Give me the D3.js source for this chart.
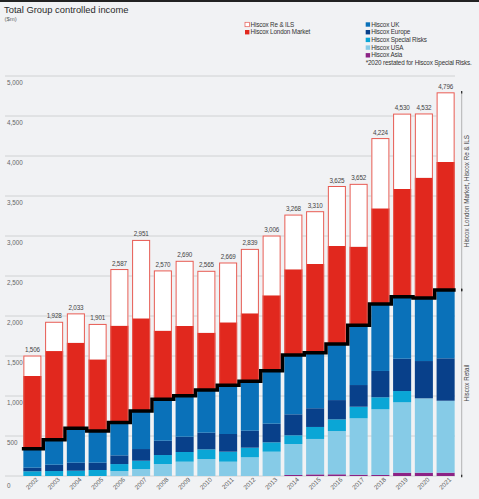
<!DOCTYPE html>
<html>
<head>
<meta charset="utf-8">
<script src="https://cdn.jsdelivr.net/npm/d3@7"></script>
<style>
  body { margin: 0; background: #f1f2f4; }
  svg { display: block; font-family: "Liberation Sans", Arial, sans-serif; }
</style>
</head>
<body>
<div id="chart"></div>
<script>
// data ($m)
var years = ["2002","2003","2004","2005","2006","2007","2008","2009","2010","2011",
             "2012","2013","2014","2015","2016","2017","2018","2019","2020","2021"];
var totals = [1506,1928,2033,1901,2587,2951,2570,2690,2565,2669,
              2839,3006,3268,3310,3625,3652,4224,4530,4532,4796];
var asia    = [0,0,0,0,0,0,0,0,0,0, 0,0,13,20,21,16,13,41,41,41];
var usa     = [0,0,0,0,62,87,150,179,212,179, 234,304,387,443,541,705,821,880,930,900];
var special = [59,62,66,75,87,104,112,121,121,125, 120,117,109,150,146,145,150,141,0,0];
var europe  = [45,79,100,91,109,146,179,191,208,221, 212,233,262,234,241,271,329,404,466,530];
var uk      = [237,312,430,396,412,475,518,512,534,609, 617,662,741,695,700,746,838,775,787,854];
var london  = [909,1109,1070,896,1209,1159,858,872,716,787, 851,943,1072,1108,1226,984,1195,1347,1505,1600];
var reIls   = [256,366,367,443,708,980,753,815,774,748, 805,747,684,660,750,785,878,942,803,871];
var yTicks  = [0,500,1000,1500,2000,2500,3000,3500,4000,4500,5000];

var keys = ["asia","usa","special","europe","uk","london","reIls"];
var colors = {asia:"#8c2385", usa:"#86cbe7", special:"#0aa6d6", europe:"#08408a",
              uk:"#0a71b9", london:"#e1281e", reIls:"#ffffff"};

var rows = years.map(function(y, i) {
  return {year:y, asia:asia[i], usa:usa[i], special:special[i], europe:europe[i],
          uk:uk[i], london:london[i], reIls:reIls[i], total:totals[i]};
});

var W = 479, H = 499;
var svg = d3.select("#chart").append("svg").attr("width", W).attr("height", H);

// top rule
svg.append("rect").attr("x",0).attr("y",0).attr("width",W).attr("height",2).attr("fill","#222");

svg.append("text").attr("x",4).attr("y",13).attr("font-size",9.4).attr("fill","#2a2a2a")
  .text("Total Group controlled income");
svg.append("text").attr("x",4.5).attr("y",21.3).attr("font-size",6).attr("fill","#666").text("($m)");

// scales
var x = d3.scaleBand().domain(years).range([21.5, 456.5]).paddingInner(0.17).paddingOuter(0.085);
var y = d3.scaleLinear().domain([0, 5000]).range([476, 76]);

// gridlines + tick labels
var grid = svg.append("g");
grid.selectAll("line").data(yTicks).enter().append("line")
  .attr("x1",5).attr("x2",455)
  .attr("y1",function(d){return y(d);}).attr("y2",function(d){return y(d);})
  .attr("stroke","#c9cacc").attr("stroke-width",0.8);
grid.selectAll("text").data(yTicks).enter().append("text")
  .attr("x",7).attr("y",function(d){return y(d) + (d === 0 ? 12 : 9);})
  .attr("font-size",6.3).attr("fill","#666")
  .text(function(d){return d3.format(",")(d);});

// stacked bars
var series = d3.stack().keys(keys)(rows);
var layers = svg.append("g").selectAll("g").data(series).enter().append("g");
layers.selectAll("rect").data(function(d){ return d.map(function(v){ v.key = d.key; return v; }); })
  .enter().append("rect")
    .attr("x", function(d){ return x(d.data.year); })
    .attr("y", function(d){ return y(d[1]); })
    .attr("width", x.bandwidth())
    .attr("height", function(d){ return y(d[0]) - y(d[1]); })
    .attr("fill", function(d){ return colors[d.key]; });

// red outline round the upper part of each bar
svg.append("g").selectAll("rect").data(rows).enter().append("rect")
  .attr("x", function(d){ return x(d.year) + 0.5; })
  .attr("y", function(d){ return y(d.total) + 0.5; })
  .attr("width", x.bandwidth() - 1)
  .attr("height", function(d){ return y(d.asia+d.usa+d.special+d.europe+d.uk) - y(d.total); })
  .attr("fill","none").attr("stroke","#e65a52").attr("stroke-width",1);

// retail step line
var retail = rows.map(function(d){ return [x(d.year) + x.bandwidth()/2, d.asia+d.usa+d.special+d.europe+d.uk]; });
var pts = [[x(years[0]) - 1.5, retail[0][1]]].concat(retail)
  .concat([[x(years[years.length-1]) + x.bandwidth() + 1, retail[retail.length-1][1]]]);
svg.append("path")
  .attr("d", d3.line().x(function(d){return d[0];}).y(function(d){return y(d[1]);}).curve(d3.curveStep)(pts))
  .attr("fill","none").attr("stroke","#000").attr("stroke-width",3.5);

// total labels
svg.append("g").selectAll("text").data(rows).enter().append("text")
  .attr("x", function(d){ return x(d.year) + x.bandwidth()/2; })
  .attr("y", function(d){ return y(d.total) - 3.5; })
  .attr("text-anchor","middle").attr("font-size",6.3).attr("fill","#444")
  .attr("letter-spacing",-0.2)
  .text(function(d){ return d3.format(",")(d.total); });

// year labels
svg.append("g").selectAll("text").data(years).enter().append("text")
  .attr("transform", function(d){ return "translate(" + (x(d) + x.bandwidth()/2 + 6) + ",480) rotate(-45)"; })
  .attr("text-anchor","end").attr("font-size",6.3).attr("fill","#555")
  .text(function(d){ return d; });

// right brackets
var last = rows[rows.length-1];
var lastRetail = retail[retail.length-1][1];
var bx = 461.7;
function bracket(v0, v1, label) {
  svg.append("line").attr("x1",bx).attr("x2",bx).attr("y1",y(v1)).attr("y2",y(v0))
    .attr("stroke","#999").attr("stroke-width",0.7);
  [v0, v1].forEach(function(v){
    svg.append("line").attr("x1",bx).attr("x2",bx).attr("y1",y(v)-1.2).attr("y2",y(v)+1.2)
      .attr("stroke","#222").attr("stroke-width",1.2);
  });
  var my = (y(v0) + y(v1)) / 2;
  svg.append("text").attr("transform","translate(469," + my + ") rotate(-90)")
    .attr("text-anchor","middle").attr("font-size",6.3).attr("fill","#444").text(label);
}
bracket(lastRetail, last.total, "Hiscox London Market, Hiscox Re & ILS");
bracket(0, lastRetail, "Hiscox Retail");

// legend
var leg1 = [["reIls","Hiscox Re & ILS"],["london","Hiscox London Market"]];
var leg2 = [["uk","Hiscox UK"],["europe","Hiscox Europe"],["special","Hiscox Special Risks"],
            ["usa","Hiscox USA"],["asia","Hiscox Asia"]];
function legend(items, lx) {
  var g = svg.append("g").selectAll("g").data(items).enter().append("g")
    .attr("transform", function(d,i){ return "translate(" + lx + "," + (22.3 + i*7.7) + ")"; });
  g.append("rect").attr("width",4.4).attr("height",4.4)
    .attr("fill", function(d){ return colors[d[0]]; })
    .attr("stroke", function(d){ return d[0] === "reIls" ? "#e65a52" : "none"; })
    .attr("stroke-width",0.7);
  g.append("text").attr("x",5.5).attr("y",4.3).attr("font-size",6.3).attr("fill","#333")
    .attr("letter-spacing",-0.15)
    .text(function(d){ return d[1]; });
}
legend(leg1, 245);
legend(leg2, 365.7);
svg.append("text").attr("x",365.7).attr("y",65.3).attr("font-size",6.3).attr("fill","#333")
  .attr("letter-spacing",-0.15).text("*2020 restated for Hiscox Special Risks.");
</script>
</body>
</html>
